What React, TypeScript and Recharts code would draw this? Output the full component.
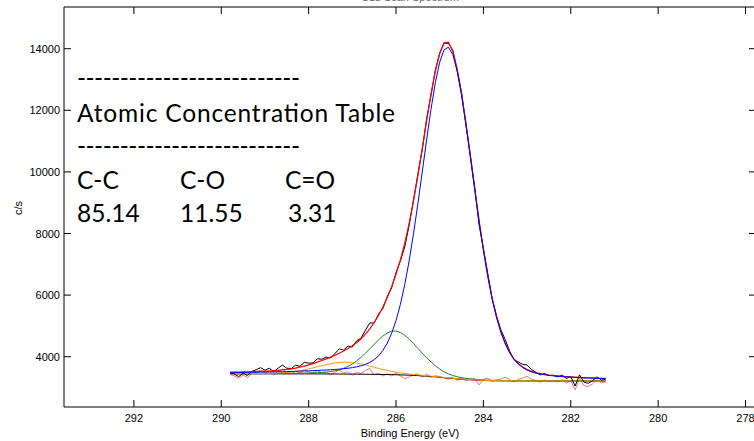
import React from 'react';
import { LineChart, Line, XAxis, YAxis, Label } from 'recharts';

// Binding energy grid (eV), high to low
const energies = [
  289.8, 289.7, 289.6, 289.5, 289.4, 289.3, 289.2, 289.1, 289.0, 288.9,
  288.8, 288.7, 288.6, 288.5, 288.4, 288.3, 288.2, 288.1, 288.0, 287.9,
  287.8, 287.7, 287.6, 287.5, 287.4, 287.3, 287.2, 287.1, 287.0, 286.9,
  286.8, 286.7, 286.6, 286.5, 286.4, 286.3, 286.2, 286.1, 286.0, 285.9,
  285.8, 285.7, 285.6, 285.5, 285.4, 285.3, 285.2, 285.1, 285.0, 284.9,
  284.8, 284.7, 284.6, 284.5, 284.4, 284.3, 284.2, 284.1, 284.0, 283.9,
  283.8, 283.7, 283.6, 283.5, 283.4, 283.3, 283.2, 283.1, 283.0, 282.9,
  282.8, 282.7, 282.6, 282.5, 282.4, 282.3, 282.2, 282.1, 282.0, 281.9,
  281.8, 281.7, 281.6, 281.5, 281.4, 281.3, 281.2,
];

// Measured counts (black)
const rawCounts = [
  3478, 3439, 3353, 3466, 3389, 3523, 3578, 3643, 3560, 3626,
  3516, 3627, 3730, 3626, 3617, 3722, 3691, 3815, 3793, 3797,
  3933, 3916, 3989, 3957, 4099, 4254, 4216, 4345, 4314, 4520,
  4604, 4862, 5097, 5091, 5386, 5566, 5954, 6235, 6735, 7111,
  7567, 8265, 9086, 9924, 10713, 11722, 12486, 13308, 13859, 14180,
  14175, 13951, 13293, 12574, 11544, 10556, 9517, 8284, 7519, 6709,
  5881, 5328, 4874, 4555, 4186, 3902, 3826, 3753, 3731, 3583,
  3500, 3409, 3456, 3385, 3399, 3346, 3405, 3294, 3355, 3047,
  3410, 3172, 3136, 3221, 3345, 3241, 3267,
];

// Fit envelope (red)
const envelope = [
  3498, 3499, 3503, 3506, 3509, 3513, 3518, 3523, 3530, 3536,
  3546, 3557, 3570, 3586, 3607, 3632, 3661, 3695, 3733, 3777,
  3823, 3876, 3929, 3987, 4049, 4114, 4186, 4265, 4354, 4460,
  4584, 4732, 4907, 5111, 5346, 5616, 5924, 6275, 6675, 7141,
  7687, 8325, 9056, 9874, 10753, 11652, 12516, 13268, 13839, 14190,
  14215, 13911, 13343, 12544, 11584, 10536, 9467, 8434, 7479, 6629,
  5901, 5298, 4814, 4435, 4146, 3932, 3776, 3663, 3581, 3523,
  3480, 3449, 3426, 3405, 3389, 3376, 3365, 3354, 3345, 3337,
  3330, 3322, 3316, 3311, 3305, 3301, 3297,
];

// C-C component (blue)
const ccComponent = [
  3484, 3485, 3487, 3489, 3491, 3493, 3496, 3498, 3501, 3503,
  3507, 3510, 3513, 3517, 3521, 3526, 3530, 3536, 3541, 3548,
  3553, 3561, 3568, 3576, 3586, 3597, 3610, 3626, 3645, 3671,
  3704, 3750, 3814, 3904, 4029, 4204, 4442, 4760, 5173, 5697,
  6342, 7109, 7989, 8963, 9995, 11037, 12028, 12897, 13564, 13965,
  14050, 13809, 13269, 12488, 11541, 10501, 9437, 8408, 7456, 6608,
  5881, 5279, 4796, 4418, 4130, 3916, 3761, 3648, 3568, 3510,
  3468, 3437, 3414, 3394, 3378, 3365, 3354, 3344, 3335, 3327,
  3320, 3313, 3307, 3302, 3296, 3292, 3288,
];

// C-O component (green)
const coComponent = [
  3450, 3450, 3451, 3451, 3452, 3452, 3453, 3454, 3455, 3456,
  3457, 3458, 3459, 3460, 3462, 3464, 3466, 3468, 3472, 3476,
  3481, 3490, 3501, 3518, 3542, 3576, 3623, 3685, 3765, 3863,
  3980, 4112, 4256, 4404, 4547, 4673, 4770, 4826, 4832, 4788,
  4699, 4576, 4429, 4273, 4116, 3966, 3832, 3706, 3598, 3510,
  3442, 3389, 3349, 3320, 3298, 3280, 3265, 3254, 3247, 3240,
  3235, 3232, 3230, 3228, 3226, 3225, 3224, 3223, 3222, 3221,
  3220, 3220, 3220, 3218, 3218, 3218, 3218, 3217, 3217, 3217,
  3217, 3216, 3216, 3216, 3216, 3216, 3216,
];

// C=O component (orange)
const c2oComponent = [
  3448, 3448, 3449, 3450, 3450, 3452, 3453, 3455, 3458, 3461,
  3466, 3473, 3482, 3493, 3508, 3526, 3549, 3575, 3604, 3637,
  3671, 3707, 3740, 3771, 3797, 3815, 3825, 3824, 3812, 3792,
  3764, 3730, 3695, 3657, 3620, 3585, 3554, 3525, 3498, 3476,
  3456, 3440, 3424, 3410, 3396, 3383, 3370, 3357, 3343, 3328,
  3315, 3301, 3287, 3276, 3265, 3255, 3245, 3238, 3232, 3227,
  3223, 3221, 3220, 3219, 3218, 3217, 3217, 3216, 3215, 3214,
  3214, 3214, 3214, 3213, 3213, 3213, 3213, 3213, 3213, 3213,
  3213, 3213, 3213, 3213, 3213, 3213, 3213,
];

// Shirley background (black)
const background = [
  3442, 3442, 3442, 3442, 3442, 3442, 3442, 3442, 3442, 3442,
  3442, 3442, 3442, 3442, 3442, 3442, 3442, 3442, 3442, 3442,
  3441, 3441, 3440, 3439, 3438, 3437, 3436, 3435, 3434, 3433,
  3432, 3430, 3429, 3427, 3425, 3423, 3421, 3418, 3414, 3410,
  3405, 3400, 3393, 3386, 3377, 3367, 3357, 3346, 3333, 3320,
  3307, 3294, 3281, 3270, 3260, 3250, 3240, 3233, 3228, 3223,
  3219, 3217, 3216, 3215, 3214, 3213, 3213, 3212, 3212, 3211,
  3211, 3211, 3211, 3210, 3210, 3210, 3210, 3210, 3210, 3210,
  3210, 3210, 3210, 3210, 3210, 3210, 3210,
];

// Residual, offset onto background (light red)
const residual = [
  3422, 3382, 3292, 3402, 3322, 3452, 3502, 3562, 3472, 3532,
  3412, 3512, 3602, 3482, 3452, 3532, 3472, 3562, 3502, 3462,
  3551, 3481, 3500, 3409, 3488, 3577, 3466, 3515, 3394, 3493,
  3452, 3560, 3619, 3407, 3465, 3373, 3451, 3378, 3474, 3380,
  3285, 3340, 3423, 3436, 3337, 3437, 3327, 3386, 3353, 3310,
  3267, 3334, 3231, 3300, 3220, 3270, 3290, 3083, 3268, 3303,
  3199, 3247, 3276, 3335, 3254, 3183, 3263, 3302, 3362, 3271,
  3231, 3171, 3241, 3190, 3220, 3180, 3250, 3150, 3220, 2920,
  3290, 3060, 3030, 3120, 3250, 3150, 3180,
];

const xTicks = [278, 280, 282, 284, 286, 288, 290, 292];
const yTicks = [4000, 6000, 8000, 10000, 12000, 14000];

const tableHeader = 'Atomic Concentration Table';
const tableLabels = ['C-C', 'C-O', 'C=O'];
const tableValues = ['85.14', '11.55', '3.31'];

const data = energies.map((e, i) => ({
  e,
  raw: rawCounts[i],
  env: envelope[i],
  cc: ccComponent[i],
  co: coComponent[i],
  c2o: c2oComponent[i],
  bg: background[i],
  res: residual[i],
}));

const FONT = '"Liberation Sans", Arial, sans-serif';
const NOTE_FONT = 'Lato, "Open Sans", sans-serif';

const BottomTick = (props: any) => {
  const { x, y, payload } = props;
  return (
    <g>
      <line x1={x} y1={y} x2={x} y2={y - 7} stroke="#000" strokeWidth={1} />
      <text x={x} y={y + 15} textAnchor="middle" fontSize={11} fontFamily={FONT} fill="#000">
        {payload.value}
      </text>
    </g>
  );
};

const TopTick = (props: any) => {
  const { x, y } = props;
  return <line x1={x} y1={y} x2={x} y2={y + 7} stroke="#000" strokeWidth={1} />;
};

const LeftTick = (props: any) => {
  const { x, y, payload } = props;
  return (
    <g>
      <line x1={x} y1={y} x2={x + 7} y2={y} stroke="#000" strokeWidth={1} />
      <text x={x - 4} y={y + 4} textAnchor="end" fontSize={11} fontFamily={FONT} fill="#000">
        {payload.value}
      </text>
    </g>
  );
};

const RightTick = (props: any) => {
  const { x, y } = props;
  return <line x1={x} y1={y} x2={x - 7} y2={y} stroke="#000" strokeWidth={1} />;
};

const xDomain: [number, number] = [277.76, 293.6];
const yDomain: [number, number] = [2367, 15354];

export default function App() {
  const labelCols = [77, 180, 285];
  const valueCols = [77, 180, 288];
  return (
    <div
      style={{
        position: 'absolute',
        left: 0,
        top: 0,
        width: 754,
        height: 441,
        overflow: 'hidden',
        background: '#fff',
      }}
    >
      <LineChart width={800} height={441} data={data} margin={{ top: 0, right: 34, bottom: 0, left: 0 }}>
        <XAxis
          dataKey="e"
          type="number"
          domain={xDomain}
          reversed
          allowDataOverflow
          ticks={xTicks}
          interval={0}
          height={34}
          tickSize={0}
          tickMargin={0}
          tickLine={false}
          axisLine={{ stroke: '#000', strokeWidth: 1 }}
          tick={BottomTick}
        >
          <Label
            content={() => (
              <text x={410} y={437} textAnchor="middle" fontSize={11} fontFamily={FONT} fill="#000">
                Binding Energy (eV)
              </text>
            )}
          />
        </XAxis>
        <XAxis
          xAxisId="top"
          orientation="top"
          dataKey="e"
          type="number"
          domain={xDomain}
          reversed
          allowDataOverflow
          ticks={xTicks}
          interval={0}
          height={7}
          tickSize={0}
          tickMargin={0}
          tickLine={false}
          axisLine={{ stroke: '#000', strokeWidth: 1 }}
          tick={TopTick}
        />
        <YAxis
          type="number"
          domain={yDomain}
          allowDataOverflow
          ticks={yTicks}
          interval={0}
          width={64}
          tickSize={0}
          tickMargin={0}
          tickLine={false}
          axisLine={{ stroke: '#000', strokeWidth: 1 }}
          tick={LeftTick}
        >
          <Label
            content={() => (
              <text
                x={22}
                y={208}
                transform="rotate(-90 22 208)"
                textAnchor="middle"
                fontSize={11}
                fontFamily={FONT}
                fill="#000"
              >
                c/s
              </text>
            )}
          />
        </YAxis>
        <YAxis
          yAxisId="right"
          orientation="right"
          type="number"
          domain={yDomain}
          allowDataOverflow
          ticks={yTicks}
          interval={0}
          width={10}
          tickSize={0}
          tickMargin={0}
          tickLine={false}
          axisLine={{ stroke: '#000', strokeWidth: 1 }}
          tick={RightTick}
        />
        <Line type="linear" dataKey="res" stroke="#ff7070" strokeWidth={1} dot={false} isAnimationActive={false} />
        <Line type="linear" dataKey="bg" stroke="#000" strokeWidth={1} dot={false} isAnimationActive={false} />
        <Line type="linear" dataKey="co" stroke="#1a8a1a" strokeWidth={1} dot={false} isAnimationActive={false} />
        <Line type="linear" dataKey="c2o" stroke="#ff9a10" strokeWidth={1} dot={false} isAnimationActive={false} />
        <Line type="linear" dataKey="raw" stroke="#000" strokeWidth={1} dot={false} isAnimationActive={false} />
        <Line type="linear" dataKey="env" stroke="#ff0000" strokeWidth={1.2} dot={false} isAnimationActive={false} />
        <Line type="linear" dataKey="cc" stroke="#0000ff" strokeWidth={1} dot={false} isAnimationActive={false} />
      </LineChart>
      <svg
        width={754}
        height={441}
        style={{ position: 'absolute', left: 0, top: 0, pointerEvents: 'none' }}
      >
        <text x={410} y={0.5} textAnchor="middle" fontSize={11} fontFamily={FONT} fill="#666">
          C1s Scan Spectrum
        </text>
        <text x={77} y={87} fontSize={24.5} fontFamily={NOTE_FONT} fill="#000" textLength={223}>
          --------------------------
        </text>
        <text x={77} y={121.5} fontSize={24.5} fontFamily={NOTE_FONT} fill="#000" textLength={318}>
          {tableHeader}
        </text>
        <text x={77} y={155} fontSize={24.5} fontFamily={NOTE_FONT} fill="#000" textLength={223}>
          --------------------------
        </text>
        {tableLabels.map((t, i) => (
          <text key={t} x={labelCols[i]} y={188.5} fontSize={24.5} fontFamily={NOTE_FONT} fill="#000">
            {t}
          </text>
        ))}
        {tableValues.map((t, i) => (
          <text key={t} x={valueCols[i]} y={221.5} fontSize={24.5} fontFamily={NOTE_FONT} fill="#000">
            {t}
          </text>
        ))}
      </svg>
    </div>
  );
}
